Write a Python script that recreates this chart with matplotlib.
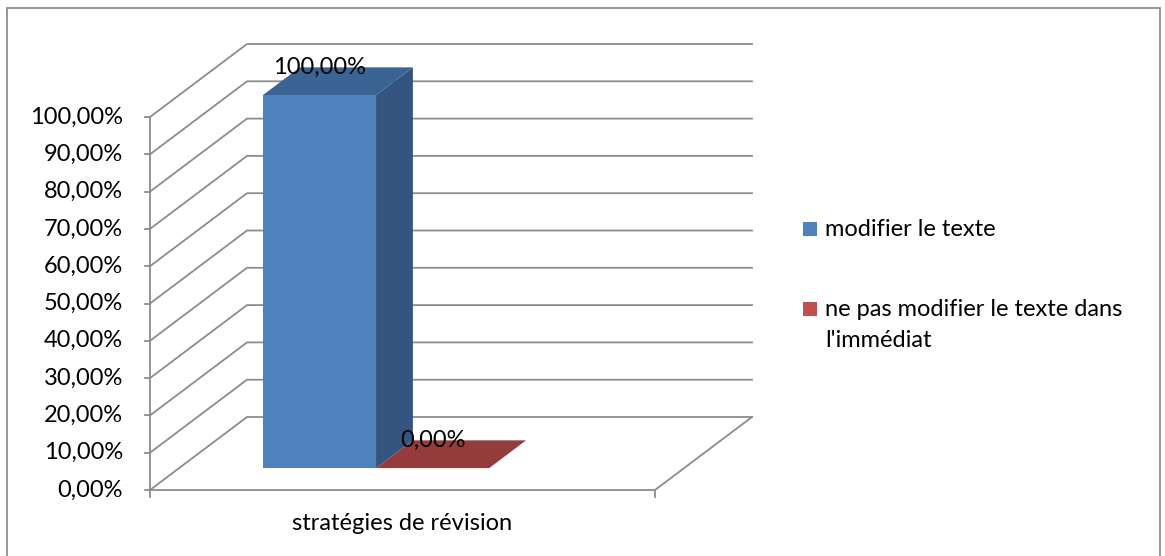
import matplotlib
matplotlib.use('Agg')
import matplotlib.pyplot as plt
from matplotlib.patches import Polygon, Rectangle

# Data
category = 'stratégies de révision'
series = ['modifier le texte', "ne pas modifier le texte dans\nl'immédiat"]
values = [100.0, 0.0]
y_ticks = [0, 10, 20, 30, 40, 50, 60, 70, 80, 90, 100]

plt.rcParams['font.family'] = ['Lato', 'DejaVu Sans']
FS = 17

W, H = 1165, 556
fig = plt.figure(figsize=(W / 100, H / 100), dpi=100)
ax = fig.add_axes([0, 0, 1, 1])

# front plane: x in [0, 1] -> pixels 150..655, y in % -> 490 - 3.73*y
px0, px1, py0, pscale = 150, 655, 490, 3.73
ax.set_xlim((0 - px0) / (px1 - px0), (W - px0) / (px1 - px0))
ax.set_ylim((py0 - H) / pscale, py0 / pscale)
ax.axis('off')

dx, dy = 97 / (px1 - px0), 73 / pscale   # depth of the box
grid_c = '#8c8c8c'

# walls gridlines
for v in y_ticks:
    ax.plot([0, dx, 1 + dx], [v, v + dy, v + dy], color=grid_c, lw=1.3, zorder=1)
# floor front edge and right edge, y axis
ax.plot([0, 1, 1 + dx], [0, 0, dy], color=grid_c, lw=1.3, zorder=1)
ax.plot([0, 0], [0, max(y_ticks)], color=grid_c, lw=1.3, zorder=1)
for v in y_ticks:
    ax.plot([-5 / (px1 - px0), 0], [v, v], color=grid_c, lw=1.3, zorder=1)
    ax.text(-27 / (px1 - px0), v, f'{v:.2f}'.replace('.', ',') + '%',
            ha='right', va='center', fontsize=FS, color='black')
for xx in [0, 1]:
    ax.plot([xx, xx], [0, -7 / pscale], color=grid_c, lw=1.3, zorder=1)

ax.text(0.5, -33 / pscale, category, ha='center', va='center', fontsize=FS)

# bars
faces = [('#4F81BD', '#3A6494', '#34557F'), ('#C0504D', '#933C3B', '#7D3331')]
bw, bx0 = 0.224, 0.166
df, db = 0.30, 0.68
fx, fy = df * dx, df * dy
bx, by = db * dx, db * dy
for i, v in enumerate(values):
    xl = bx0 + i * bw
    xr = xl + bw
    front, top, side = faces[i]
    ax.add_patch(Polygon([(xr + fx, fy), (xr + bx, by), (xr + bx, v + by), (xr + fx, v + fy)],
                         closed=True, fc=side, ec='none', zorder=3))
    ax.add_patch(Polygon([(xl + fx, v + fy), (xr + fx, v + fy), (xr + bx, v + by), (xl + bx, v + by)],
                         closed=True, fc=top, ec='none', zorder=3))
    if v > 0:
        ax.add_patch(Polygon([(xl + fx, fy), (xr + fx, fy), (xr + fx, v + fy), (xl + fx, v + fy)],
                             closed=True, fc=front, ec='none', zorder=4))
    ax.text((xl + xr) / 2 + fx, v + by, f'{v:.2f}'.replace('.', ',') + '%',
            ha='center', va='center', fontsize=FS, zorder=5)

# legend
leg_colors = ['#4F81BD', '#C0504D']
leg_y = [229, 309]
for c, lab, yy in zip(leg_colors, series, leg_y):
    fig.add_artist(Rectangle((803 / W, 1 - (yy + 7) / H), 14 / W, 14 / H,
                             transform=fig.transFigure, fc=c, ec='none'))
    fig.text(825 / W, 1 - (yy - 10) / H, lab, ha='left', va='top', fontsize=FS,
             linespacing=1.6)

# outer border
fig.add_artist(Rectangle((7 / W, -0.05), 1153 / W, 1 - 8 / H + 0.05,
                         transform=fig.transFigure, fill=False, ec='#868686', lw=1.2))

fig.savefig('out.png', dpi=100)
